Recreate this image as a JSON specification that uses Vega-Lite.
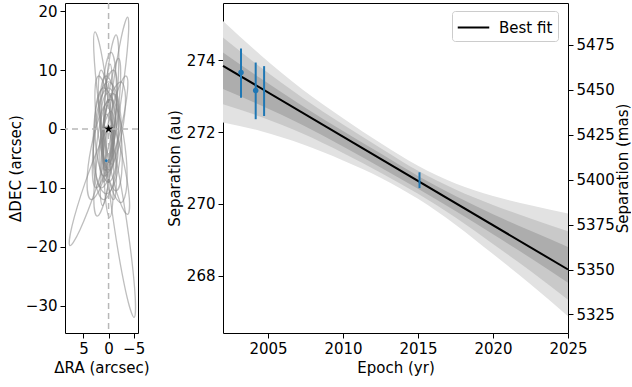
{
  "$schema": "https://vega.github.io/schema/vega-lite/v6.json",
  "padding": {"left": 7, "top": 1, "right": 0, "bottom": 0},
  "background": "white",
  "config": {
    "font": "DejaVu Sans",
    "view": {"stroke": "#000", "strokeWidth": 1},
    "axis": {"grid": false, "domain": false, "tickColor": "#000", "tickSize": 5, "labelColor": "#000", "titleColor": "#000", "labelFontSize": 15, "titleFontSize": 15, "titleFontWeight": "normal", "labelFont": "DejaVu Sans", "titleFont": "DejaVu Sans", "labelPadding": 3, "labelOverlap": false, "labelFlush": false},
    "legend": {"labelFont": "DejaVu Sans"}
  },
  "datasets": {
    "orbits": [
      {"o":1,"i":0,"x":-3.8,"y":19},{"o":1,"i":1,"x":-3.9,"y":15.22},{"o":1,"i":2,"x":-2.74,"y":6.34},{"o":1,"i":3,"x":-1.0,"y":-2.45},{"o":1,"i":4,"x":0.3,"y":-6},{"o":1,"i":5,"x":0.4,"y":-2.22},{"o":1,"i":6,"x":-0.76,"y":6.66},{"o":1,"i":7,"x":-2.5,"y":15.45},
      {"o":2,"i":0,"x":2.7,"y":16.5},{"o":2,"i":1,"x":1.53,"y":13.3},{"o":2,"i":2,"x":0.11,"y":5.39},{"o":2,"i":3,"x":-0.73,"y":-2.6},{"o":2,"i":4,"x":-0.5,"y":-6},{"o":2,"i":5,"x":0.67,"y":-2.8},{"o":2,"i":6,"x":2.09,"y":5.11},{"o":2,"i":7,"x":2.93,"y":13.1},
      {"o":3,"i":0,"x":-1.5,"y":16},{"o":3,"i":1,"x":-2.04,"y":12.63},{"o":3,"i":2,"x":-1.65,"y":4.64},{"o":3,"i":3,"x":-0.55,"y":-3.28},{"o":3,"i":4,"x":0.6,"y":-6.5},{"o":3,"i":5,"x":1.14,"y":-3.13},{"o":3,"i":6,"x":0.75,"y":4.86},{"o":3,"i":7,"x":-0.35,"y":12.78},
      {"o":4,"i":0,"x":-0.5,"y":13},{"o":4,"i":1,"x":-1.41,"y":10.02},{"o":4,"i":2,"x":-1.5,"y":2.93},{"o":4,"i":3,"x":-0.71,"y":-4.12},{"o":4,"i":4,"x":0.5,"y":-7},{"o":4,"i":5,"x":1.41,"y":-4.02},{"o":4,"i":6,"x":1.5,"y":3.08},{"o":4,"i":7,"x":0.71,"y":10.12},
      {"o":5,"i":0,"x":-3.5,"y":9},{"o":5,"i":1,"x":-3.76,"y":6.42},{"o":5,"i":2,"x":-2.61,"y":0.66},{"o":5,"i":3,"x":-0.72,"y":-4.9},{"o":5,"i":4,"x":0.8,"y":-7},{"o":5,"i":5,"x":1.06,"y":-4.42},{"o":5,"i":6,"x":-0.1,"y":1.34},{"o":5,"i":7,"x":-1.98,"y":6.9},
      {"o":6,"i":0,"x":2,"y":9},{"o":6,"i":1,"x":0.61,"y":6.81},{"o":6,"i":2,"x":-0.64,"y":1.21},{"o":6,"i":3,"x":-1.01,"y":-4.51},{"o":6,"i":4,"x":-0.3,"y":-7},{"o":6,"i":5,"x":1.09,"y":-4.81},{"o":6,"i":6,"x":2.34,"y":0.79},{"o":6,"i":7,"x":2.71,"y":6.51},
      {"o":7,"i":0,"x":-2.5,"y":8},{"o":7,"i":1,"x":-3.37,"y":5.35},{"o":7,"i":2,"x":-2.7,"y":-0.43},{"o":7,"i":3,"x":-0.89,"y":-5.96},{"o":7,"i":4,"x":1,"y":-8},{"o":7,"i":5,"x":1.87,"y":-5.35},{"o":7,"i":6,"x":1.2,"y":0.43},{"o":7,"i":7,"x":-0.61,"y":5.96},
      {"o":8,"i":0,"x":1,"y":7},{"o":8,"i":1,"x":-0.7,"y":4.75},{"o":8,"i":2,"x":-1.7,"y":-0.86},{"o":8,"i":3,"x":-1.41,"y":-6.56},{"o":8,"i":4,"x":0,"y":-9},{"o":8,"i":5,"x":1.7,"y":-6.75},{"o":8,"i":6,"x":2.7,"y":-1.14},{"o":8,"i":7,"x":2.41,"y":4.56},
      {"o":9,"i":0,"x":-1,"y":6},{"o":9,"i":1,"x":-2.03,"y":3.44},{"o":9,"i":2,"x":-1.73,"y":-2.31},{"o":9,"i":3,"x":-0.26,"y":-7.87},{"o":9,"i":4,"x":1.5,"y":-10},{"o":9,"i":5,"x":2.53,"y":-7.44},{"o":9,"i":6,"x":2.23,"y":-1.69},{"o":9,"i":7,"x":0.76,"y":3.87},
      {"o":10,"i":0,"x":-0.5,"y":0.5},{"o":10,"i":1,"x":-0.09,"y":-2.79},{"o":10,"i":2,"x":2.49,"y":-10.1},{"o":10,"i":3,"x":5.71,"y":-17.14},{"o":10,"i":4,"x":7.7,"y":-19.8},{"o":10,"i":5,"x":7.29,"y":-16.51},{"o":10,"i":6,"x":4.71,"y":-9.2},{"o":10,"i":7,"x":1.49,"y":-2.16},
      {"o":11,"i":0,"x":0.5,"y":0.5},{"o":11,"i":1,"x":-1.23,"y":-4.11},{"o":11,"i":2,"x":-3.58,"y":-15.53},{"o":11,"i":3,"x":-5.19,"y":-27.08},{"o":11,"i":4,"x":-5.1,"y":-32},{"o":11,"i":5,"x":-3.37,"y":-27.4},{"o":11,"i":6,"x":-1.02,"y":-15.97},{"o":11,"i":7,"x":0.59,"y":-4.42},
      {"o":12,"i":0,"x":0.5,"y":2.5},{"o":12,"i":1,"x":-1.09,"y":0.25},{"o":12,"i":2,"x":-3.01,"y":-5.66},{"o":12,"i":3,"x":-4.13,"y":-11.77},{"o":12,"i":4,"x":-3.8,"y":-14.5},{"o":12,"i":5,"x":-2.21,"y":-12.25},{"o":12,"i":6,"x":-0.29,"y":-6.34},{"o":12,"i":7,"x":0.83,"y":-0.23},
      {"o":13,"i":0,"x":-0.5,"y":3},{"o":13,"i":1,"x":-1.14,"y":0.23},{"o":13,"i":2,"x":-0.58,"y":-6.13},{"o":13,"i":3,"x":0.84,"y":-12.36},{"o":13,"i":4,"x":2.3,"y":-14.8},{"o":13,"i":5,"x":2.94,"y":-12.03},{"o":13,"i":6,"x":2.38,"y":-5.67},{"o":13,"i":7,"x":0.96,"y":0.56},
      {"o":14,"i":0,"x":-0.5,"y":5},{"o":14,"i":1,"x":-1.29,"y":2.19},{"o":14,"i":2,"x":-0.45,"y":-3.96},{"o":14,"i":3,"x":1.54,"y":-9.83},{"o":14,"i":4,"x":3.5,"y":-12},{"o":14,"i":5,"x":4.29,"y":-9.19},{"o":14,"i":6,"x":3.45,"y":-3.04},{"o":14,"i":7,"x":1.46,"y":2.83},
      {"o":15,"i":0,"x":0.3,"y":6},{"o":15,"i":1,"x":-1.65,"y":3.52},{"o":15,"i":2,"x":-3.28,"y":-2.92},{"o":15,"i":3,"x":-3.63,"y":-9.56},{"o":15,"i":4,"x":-2.5,"y":-12.5},{"o":15,"i":5,"x":-0.55,"y":-10.02},{"o":15,"i":6,"x":1.08,"y":-3.58},{"o":15,"i":7,"x":1.43,"y":3.06},
      {"o":16,"i":0,"x":0,"y":7},{"o":16,"i":1,"x":-1.62,"y":4.12},{"o":16,"i":2,"x":-2,"y":-2.63},{"o":16,"i":3,"x":-0.91,"y":-9.31},{"o":16,"i":4,"x":1,"y":-12},{"o":16,"i":5,"x":2.62,"y":-9.12},{"o":16,"i":6,"x":3,"y":-2.37},{"o":16,"i":7,"x":1.91,"y":4.31},
      {"o":17,"i":0,"x":0,"y":8},{"o":17,"i":1,"x":-1.91,"y":5.17},{"o":17,"i":2,"x":-2.55,"y":-1.57},{"o":17,"i":3,"x":-1.55,"y":-8.27},{"o":17,"i":4,"x":0.5,"y":-11},{"o":17,"i":5,"x":2.41,"y":-8.17},{"o":17,"i":6,"x":3.05,"y":-1.43},{"o":17,"i":7,"x":2.05,"y":5.27},
      {"o":18,"i":0,"x":0.5,"y":9},{"o":18,"i":1,"x":-1.2,"y":6.29},{"o":18,"i":2,"x":-2.49,"y":-0.55},{"o":18,"i":3,"x":-2.61,"y":-7.5},{"o":18,"i":4,"x":-1.5,"y":-10.5},{"o":18,"i":5,"x":0.2,"y":-7.79},{"o":18,"i":6,"x":1.49,"y":-0.95},{"o":18,"i":7,"x":1.61,"y":6},
      {"o":19,"i":0,"x":-1,"y":10},{"o":19,"i":1,"x":-1.74,"y":6.85},{"o":19,"i":2,"x":-1.02,"y":-0.31},{"o":19,"i":3,"x":0.73,"y":-7.29},{"o":19,"i":4,"x":2.5,"y":-10},{"o":19,"i":5,"x":3.24,"y":-6.85},{"o":19,"i":6,"x":2.52,"y":0.31},{"o":19,"i":7,"x":0.77,"y":7.29},
      {"o":20,"i":0,"x":0.2,"y":4},{"o":20,"i":1,"x":-0.57,"y":1.23},{"o":20,"i":2,"x":-1,"y":-5.48},{"o":20,"i":3,"x":-0.85,"y":-12.2},{"o":20,"i":4,"x":-0.2,"y":-15},{"o":20,"i":5,"x":0.57,"y":-12.23},{"o":20,"i":6,"x":1,"y":-5.52},{"o":20,"i":7,"x":0.85,"y":1.2},
      {"o":21,"i":0,"x":-0.3,"y":11},{"o":21,"i":1,"x":-0.73,"y":8.19},{"o":21,"i":2,"x":-0.65,"y":1.46},{"o":21,"i":3,"x":-0.1,"y":-5.24},{"o":21,"i":4,"x":0.6,"y":-8},{"o":21,"i":5,"x":1.03,"y":-5.19},{"o":21,"i":6,"x":0.95,"y":1.54},{"o":21,"i":7,"x":0.4,"y":8.24},
      {"o":22,"i":0,"x":1.2,"y":-13},{"o":22,"i":1,"x":1.67,"y":-10.16},{"o":22,"i":2,"x":1.4,"y":-3.42},{"o":22,"i":3,"x":0.54,"y":3.28},{"o":22,"i":4,"x":-0.4,"y":6},{"o":22,"i":5,"x":-0.87,"y":3.16},{"o":22,"i":6,"x":-0.6,"y":-3.58},{"o":22,"i":7,"x":0.26,"y":-10.28},
      {"o":23,"i":0,"x":-2,"y":12},{"o":23,"i":1,"x":-2.4,"y":8.8},{"o":23,"i":2,"x":-1.69,"y":1.33},{"o":23,"i":3,"x":-0.28,"y":-6.04},{"o":23,"i":4,"x":1,"y":-9},{"o":23,"i":5,"x":1.4,"y":-5.8},{"o":23,"i":6,"x":0.69,"y":1.67},{"o":23,"i":7,"x":-0.72,"y":9.04},
      {"o":24,"i":0,"x":1.5,"y":10},{"o":24,"i":1,"x":0.22,"y":6.88},{"o":24,"i":2,"x":-1.04,"y":-0.85},{"o":24,"i":3,"x":-1.55,"y":-8.67},{"o":24,"i":4,"x":-1,"y":-12},{"o":24,"i":5,"x":0.28,"y":-8.88},{"o":24,"i":6,"x":1.54,"y":-1.15},{"o":24,"i":7,"x":2.05,"y":6.67}
    ],
    "bands": [
      {"t":2002,"ou":275.10,"mu":274.64,"iu":274.22,"il":273.20,"ml":272.78,"ol":272.27},
      {"t":2004.5,"ou":274.15,"mu":273.81,"iu":273.50,"il":272.75,"ml":272.43,"ol":272.03},
      {"t":2007.3,"ou":273.19,"mu":272.96,"iu":272.73,"il":272.20,"ml":271.96,"ol":271.66},
      {"t":2010,"ou":272.39,"mu":272.21,"iu":272.03,"il":271.60,"ml":271.42,"ol":271.21},
      {"t":2012.6,"ou":271.67,"mu":271.53,"iu":271.38,"il":270.99,"ml":270.85,"ol":270.71},
      {"t":2015,"ou":271.06,"mu":270.92,"iu":270.78,"il":270.42,"ml":270.28,"ol":270.14},
      {"t":2017.5,"ou":270.57,"mu":270.40,"iu":270.22,"il":269.80,"ml":269.62,"ol":269.42},
      {"t":2020,"ou":270.22,"mu":269.97,"iu":269.71,"il":269.15,"ml":268.88,"ol":268.60},
      {"t":2022.5,"ou":269.96,"mu":269.59,"iu":269.25,"il":268.49,"ml":268.13,"ol":267.76},
      {"t":2025,"ou":269.73,"mu":269.24,"iu":268.80,"il":267.80,"ml":267.33,"ol":266.87}
    ],
    "obs": [
      {"t":2003.2,"s":273.66,"lo":272.96,"hi":274.33,"marker":1},
      {"t":2004.18,"s":273.16,"lo":272.36,"hi":273.94,"marker":1},
      {"t":2004.74,"s":273.15,"lo":272.45,"hi":273.84,"marker":0},
      {"t":2015.1,"s":270.66,"lo":270.44,"hi":270.88,"marker":0}
    ]
  },
  "hconcat": [
    {
      "width": 73,
      "height": 330,
      "layer": [
        {
          "data": {"name": "orbits"},
          "mark": {"type": "line", "interpolate": "cardinal-closed", "stroke": "#888888", "strokeWidth": 1.3, "opacity": 0.55, "clip": true},
          "encoding": {
            "x": {"field": "x", "type": "quantitative", "scale": {"domain": [-5.86, 8.68], "reverse": true, "nice": false, "zero": false}, "axis": {"values": [5, 0, -5], "tickCount": 10, "format": "d", "labelOverlap": false, "labelFlush": false}, "title": "ΔRA (arcsec)"},
            "y": {"field": "y", "type": "quantitative", "scale": {"domain": [-34.65, 21.4], "nice": false, "zero": false}, "axis": {"values": [-30, -20, -10, 0, 10, 20], "tickCount": 10, "format": "d", "titlePadding": 2, "labelOverlap": false}, "title": "ΔDEC (arcsec)"},
            "detail": {"field": "o", "type": "nominal"},
            "order": {"field": "i", "type": "quantitative"}
          }
        },
        {
          "data": {"values": [{"x": 0}]},
          "mark": {"type": "rule", "stroke": "#b8b8b8", "strokeDash": [6, 4], "strokeWidth": 1.5},
          "encoding": {"x": {"field": "x", "type": "quantitative", "title": "ΔRA (arcsec)"}}
        },
        {
          "data": {"values": [{"y": 0}]},
          "mark": {"type": "rule", "stroke": "#b8b8b8", "strokeDash": [6, 4], "strokeWidth": 1.5},
          "encoding": {"y": {"field": "y", "type": "quantitative", "title": "ΔDEC (arcsec)"}}
        },
        {
          "data": {"values": [{"x": 0.45, "y": -5.4}]},
          "mark": {"type": "point", "filled": true, "color": "#1f77b4", "size": 8, "opacity": 1},
          "encoding": {"x": {"field": "x", "type": "quantitative", "title": "ΔRA (arcsec)"}, "y": {"field": "y", "type": "quantitative", "title": "ΔDEC (arcsec)"}}
        },
        {
          "data": {"values": [{"x": 0, "y": 0}]},
          "mark": {"type": "point", "filled": true, "color": "#000", "size": 90, "opacity": 1, "shape": "M0,-1L0.2245,-0.309L0.951,-0.309L0.363,0.118L0.588,0.809L0,0.382L-0.588,0.809L-0.363,0.118L-0.951,-0.309L-0.2245,-0.309Z"},
          "encoding": {"x": {"field": "x", "type": "quantitative", "title": "ΔRA (arcsec)"}, "y": {"field": "y", "type": "quantitative", "title": "ΔDEC (arcsec)"}}
        }
      ]
    },
    {
      "width": 345,
      "height": 330,
      "layer": [
        {
          "layer": [
            {
              "data": {"name": "bands"},
              "mark": {"type": "area", "color": "#e2e2e2", "interpolate": "monotone", "opacity": 1},
              "encoding": {
                "x": {"field": "t", "type": "quantitative", "scale": {"domain": [2002, 2025], "nice": false, "zero": false}, "axis": {"values": [2005, 2010, 2015, 2020, 2025], "tickCount": 10, "format": "d"}, "title": "Epoch (yr)"},
                "y": {"field": "ou", "type": "quantitative", "scale": {"domain": [266.4, 275.6], "nice": false, "zero": false}, "axis": {"values": [268, 270, 272, 274], "tickCount": 10, "format": "d", "titlePadding": 4}, "title": "Separation (au)"},
                "y2": {"field": "ol"}
              }
            },
            {
              "data": {"name": "bands"},
              "mark": {"type": "area", "color": "#c9c9c9", "interpolate": "monotone", "opacity": 1},
              "encoding": {
                "x": {"field": "t", "type": "quantitative", "title": "Epoch (yr)"},
                "y": {"field": "mu", "type": "quantitative", "title": "Separation (au)"},
                "y2": {"field": "ml"}
              }
            },
            {
              "data": {"name": "bands"},
              "mark": {"type": "area", "color": "#adadad", "interpolate": "monotone", "opacity": 1},
              "encoding": {
                "x": {"field": "t", "type": "quantitative", "title": "Epoch (yr)"},
                "y": {"field": "iu", "type": "quantitative", "title": "Separation (au)"},
                "y2": {"field": "il"}
              }
            },
            {
              "data": {"values": [{"t": 2002, "s": 273.85}, {"t": 2025, "s": 268.17}]},
              "mark": {"type": "line", "strokeWidth": 2},
              "encoding": {
                "x": {"field": "t", "type": "quantitative", "title": "Epoch (yr)"},
                "y": {"field": "s", "type": "quantitative", "title": "Separation (au)"},
                "color": {"datum": "Best fit", "type": "nominal", "scale": {"range": ["#000000"]}, "legend": {"title": null, "orient": "none", "legendX": 387, "legendY": 8, "fillColor": "white", "strokeColor": "#cccccc", "cornerRadius": 3, "padding": 5, "symbolType": "M-1.5,0H1.5", "symbolSize": 441, "symbolOffset": 5, "symbolStrokeWidth": 2, "symbolStrokeColor": "#000", "symbolFillColor": "transparent", "labelFontSize": 15, "labelOffset": 14, "labelColor": "#000"}}
              }
            },
            {
              "data": {"name": "obs"},
              "mark": {"type": "rule", "color": "#1f77b4", "strokeWidth": 2},
              "encoding": {
                "x": {"field": "t", "type": "quantitative", "title": "Epoch (yr)"},
                "y": {"field": "lo", "type": "quantitative", "title": "Separation (au)"},
                "y2": {"field": "hi"}
              }
            },
            {
              "data": {"name": "obs"},
              "transform": [{"filter": "datum.marker == 1"}],
              "mark": {"type": "circle", "color": "#1f77b4", "size": 30, "opacity": 1},
              "encoding": {
                "x": {"field": "t", "type": "quantitative", "title": "Epoch (yr)"},
                "y": {"field": "s", "type": "quantitative", "title": "Separation (au)"}
              }
            }
          ]
        },
        {
          "data": {"values": [{"t": 2002, "m": 5463.3}, {"t": 2025, "m": 5350.0}]},
          "mark": {"type": "line", "opacity": 0},
          "encoding": {
            "x": {"field": "t", "type": "quantitative", "title": "Epoch (yr)"},
            "y": {"field": "m", "type": "quantitative", "scale": {"domain": [5314.7, 5498.2], "nice": false, "zero": false}, "axis": {"orient": "right", "values": [5325, 5350, 5375, 5400, 5425, 5450, 5475], "tickCount": 10, "format": "d", "titleAngle": 270, "titleBaseline": "top", "titlePadding": 1}, "title": "Separation (mas)"}
          }
        }
      ],
      "resolve": {"scale": {"y": "independent"}}
    }
  ],
  "spacing": 85,
  "bounds": "flush"
}
